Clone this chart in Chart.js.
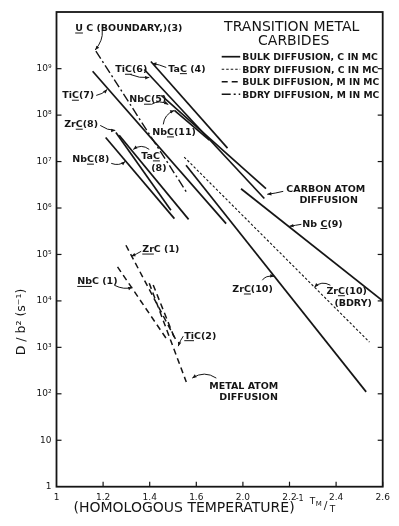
<!DOCTYPE html>
<html>
<head>
<meta charset="utf-8">
<script src="https://cdn.jsdelivr.net/npm/chart.js"></script>
<style>
html,body{margin:0;padding:0;background:#fff;overflow:hidden}
#box{position:relative;width:399px;height:526px}
</style>
</head>
<body>
<div id="box"><canvas id="chart" width="399" height="526"></canvas></div>
<script>
// ---------------- data ----------------
const xTickValues = [1.0, 1.2, 1.4, 1.6, 1.8, 2.0, 2.2, 2.4];
const xTickLabels = ['1', '1.2', '1.4', '1.6', '2.0', '2.2', '2.4', '2.6'];
const yTickValues = [1, 1e1, 1e2, 1e3, 1e4, 1e5, 1e6, 1e7, 1e8, 1e9];
const yTickLabels = ['1', '10', '10²', '10³', '10⁴', '10⁵', '10⁶', '10⁷', '10⁸', '10⁹'];

const seriesNames = ['UC boundary (3)', 'TiC (7)', 'TiC (6)', 'TaC (4)', 'NbC (5)', 'NbC (11)',
  'NbC (8)', 'ZrC (8)', 'TaC (8)', 'NbC (9)', 'ZrC (10) bdry', 'ZrC (10)',
  'ZrC (1)', 'NbC (1)', 'TiC (2)', 'TiC (2) b'];
const seriesKinds = ['bdryM', 'bulkC', 'bulkC', 'bulkC', 'bulkC', 'bulkC',
  'bulkC', 'bulkC', 'bulkC', 'bulkC', 'bdryC', 'bulkC',
  'bulkM', 'bulkM', 'bulkM', 'bulkM'];
const startX = [1.169, 1.155, 1.377, 1.405, 1.450, 1.506, 1.211, 1.255, 1.269, 1.792, 1.548, 1.556, 1.298, 1.262, 1.398, 1.415];
const startY = [2.4e9, 8.8e8, 9.6e8, 1.43e9, 2.65e8, 1.26e8, 3.3e7, 4.2e7, 3.7e7, 2.6e6, 1.25e7, 8.3e6, 1.58e5, 5.4e4, 2.4e4, 2.2e4];
const endX   = [1.558, 1.728, 1.892, 1.734, 1.899, 1.656, 1.506, 1.491, 1.567, 2.400, 2.343, 2.329, 1.513, 1.470, 1.557, 1.510];
const endY   = [2.2e6, 4.6e5, 1.6e6, 1.95e7, 2.6e6, 2.9e7, 5.9e5, 8.9e5, 5.7e5, 1.0e4, 1.3e3, 110, 1.43e3, 1.58e3, 180, 1.43e3];

const legendKinds = ['bulkC', 'bdryC', 'bulkM', 'bdryM'];
const legendTexts = ['BULK DIFFUSION, C IN MC', 'BDRY DIFFUSION, C IN MC', 'BULK DIFFUSION, M IN MC', 'BDRY DIFFUSION, M IN MC'];

// ---------------- styles / annotations ----------------
const INK = '#151515';
const kindDash = { bulkC: [], bdryC: [2.5, 2], bulkM: [6, 4], bdryM: [9, 3, 2, 3] };
const kindWidth = { bulkC: 1.7, bdryC: 1.1, bulkM: 1.5, bdryM: 1.4 };
const FONT = '"DejaVu Sans", sans-serif';

// annotation text: left x (axis units), log10(y) of text centre, underline char range
const notes = [
  { t: 'U C (BOUNDARY,)(3)', u: [0, 1], x: 1.0803, l: 9.886 },
  { t: 'TiC(6)', u: [2, 3], x: 1.2521, l: 8.998 },
  { t: 'TaC (4)', u: [2, 3], x: 1.4797, l: 9.011 },
  { t: 'TiC(7)', u: [2, 3], x: 1.0245, l: 8.439 },
  { t: 'NbC(5)', u: [2, 3], x: 1.3122, l: 8.353 },
  { t: 'NbC(11)', u: [2, 3], x: 1.411, l: 7.649 },
  { t: 'ZrC(8)', u: [2, 3], x: 1.0331, l: 7.815 },
  { t: 'NbC(8)', u: [2, 3], x: 1.0674, l: 7.062 },
  { t: 'TaC', u: [2, 3], x: 1.3638, l: 7.133 },
  { t: '(8)', x: 1.4067, l: 6.875 },
  { t: 'CARBON ATOM', x: 1.9865, l: 6.417 },
  { t: 'DIFFUSION', x: 2.0424, l: 6.181 },
  { t: 'Nb C(9)', u: [3, 4], x: 2.0552, l: 5.677 },
  { t: 'ZrC(10)', u: [2, 3], x: 1.7546, l: 4.267 },
  { t: 'ZrC(10)', u: [2, 3], x: 2.1583, l: 4.230 },
  { t: '(BDRY)', x: 2.1927, l: 3.957 },
  { t: 'ZrC (1)', u: [0, 2], x: 1.3681, l: 5.127 },
  { t: 'NbC (1)', u: [0, 2], x: 1.0889, l: 4.430 },
  { t: 'TiC(2)', u: [0, 2], x: 1.5484, l: 3.262 },
  { t: 'METAL ATOM', x: 1.6558, l: 2.172 },
  { t: 'DIFFUSION', x: 1.6988, l: 1.935 }
];
// leaders: start, control, end (axis units, log10 y)
const leaders = [
  [1.1963, 9.811, 1.2006, 9.617, 1.1662, 9.402],
  [1.3165, 8.875, 1.3552, 8.789, 1.3981, 8.811],
  [1.4711, 9.026, 1.4411, 9.090, 1.4110, 9.112],
  [1.1705, 8.424, 1.1963, 8.445, 1.2177, 8.553],
  [1.4067, 8.230, 1.4411, 8.338, 1.4797, 8.230],
  [1.4582, 7.800, 1.4625, 8.015, 1.5054, 8.101],
  [1.1877, 7.778, 1.2177, 7.671, 1.2521, 7.671],
  [1.2349, 6.961, 1.2693, 6.897, 1.2950, 7.004],
  [1.3981, 7.262, 1.3638, 7.391, 1.3294, 7.262],
  [1.9732, 6.359, 1.9389, 6.316, 1.9045, 6.295],
  [2.0509, 5.649, 2.0252, 5.628, 1.9994, 5.606],
  [1.8834, 4.445, 1.8963, 4.553, 1.9350, 4.531],
  [2.1755, 4.338, 2.1369, 4.445, 2.1068, 4.295],
  [1.3638, 5.069, 1.3423, 5.004, 1.3208, 4.961],
  [1.2478, 4.338, 1.2908, 4.230, 1.3251, 4.295],
  [1.5441, 3.241, 1.5312, 3.155, 1.5226, 3.026],
  [1.6859, 2.338, 1.6343, 2.510, 1.5828, 2.338]
];

const datasets = seriesNames.map((name, i) => ({
  label: name,
  data: [{ x: startX[i], y: startY[i] }, { x: endX[i], y: endY[i] }],
  showLine: true,
  borderColor: INK,
  borderWidth: kindWidth[seriesKinds[i]],
  borderDash: kindDash[seriesKinds[i]],
  pointRadius: 0,
  pointHoverRadius: 0,
  fill: false
}));

const deco = {
  id: 'deco',
  afterDraw(chart) {
    const { ctx, chartArea: a, scales } = chart;
    const xs = scales.x, ys = scales.y;
    const X = v => xs.getPixelForValue(v);
    const Y = l => ys.getPixelForValue(Math.pow(10, l));
    const seg = (x0, y0, x1, y1) => { ctx.beginPath(); ctx.moveTo(x0, y0); ctx.lineTo(x1, y1); ctx.stroke(); };
    ctx.save();
    ctx.strokeStyle = INK; ctx.fillStyle = INK;
    // frame
    ctx.lineWidth = 1.8;
    ctx.strokeRect(a.left, a.top, a.right - a.left, a.bottom - a.top);
    // inward ticks
    ctx.lineWidth = 1.2;
    xTickValues.forEach((v, i) => { if (i === 0) return; const p = X(v); seg(p, a.bottom, p, a.bottom - 5); });
    yTickValues.forEach((v, i) => {
      if (i === 0) return;
      const p = ys.getPixelForValue(v);
      seg(a.left, p, a.left + 5, p);
      seg(a.right, p, a.right - 5, p);
    });
    // legend
    ctx.textBaseline = 'alphabetic';
    ctx.textAlign = 'center';
    ctx.font = '14px ' + FONT;
    const cx = a.right - 91;
    ctx.fillText('TRANSITION METAL', cx, a.top + 18.5);
    ctx.fillText('CARBIDES', cx + 2, a.top + 33);
    ctx.textAlign = 'left';
    ctx.font = 'bold 9.3px ' + FONT;
    legendKinds.forEach((k, i) => {
      const yy = a.top + 44.7 + i * 12.5;
      ctx.lineWidth = kindWidth[k];
      ctx.setLineDash(kindDash[k]);
      seg(a.right - 161, yy, a.right - 142.5, yy);
      ctx.setLineDash([]);
      ctx.fillText(legendTexts[i], a.right - 140.4, yy + 3.4, 137);
    });
    // annotation texts
    ctx.font = 'bold 9.5px ' + FONT;
    ctx.lineWidth = 1;
    notes.forEach(n => {
      const px = X(n.x), base = Y(n.l) + 3.5;
      ctx.fillText(n.t, px, base);
      if (n.u) {
        const u0 = px + ctx.measureText(n.t.slice(0, n.u[0])).width;
        const u1 = px + ctx.measureText(n.t.slice(0, n.u[1])).width;
        seg(u0, base + 2, u1, base + 2);
      }
    });
    // leaders with arrow heads
    ctx.lineWidth = 1;
    leaders.forEach(L => {
      const x0 = X(L[0]), y0 = Y(L[1]), qx = X(L[2]), qy = Y(L[3]), x1 = X(L[4]), y1 = Y(L[5]);
      ctx.beginPath(); ctx.moveTo(x0, y0); ctx.quadraticCurveTo(qx, qy, x1, y1); ctx.stroke();
      const ang = Math.atan2(y1 - qy, x1 - qx);
      ctx.beginPath();
      ctx.moveTo(x1, y1);
      ctx.lineTo(x1 - 4.5 * Math.cos(ang - 0.4), y1 - 4.5 * Math.sin(ang - 0.4));
      ctx.lineTo(x1 - 4.5 * Math.cos(ang + 0.4), y1 - 4.5 * Math.sin(ang + 0.4));
      ctx.closePath(); ctx.fill();
    });
    // axis titles
    ctx.font = '14px ' + FONT;
    ctx.textAlign = 'left';
    const tx = a.left + 17;
    ctx.fillText('(HOMOLOGOUS TEMPERATURE)', tx, 511.5);
    const w = ctx.measureText('(HOMOLOGOUS TEMPERATURE)').width;
    ctx.font = '8px ' + FONT;
    ctx.fillText('-1', tx + w + 1, 501);
    ctx.font = '9px ' + FONT;
    ctx.fillText('T', tx + w + 15, 504);
    ctx.font = '7px ' + FONT;
    ctx.fillText('M', tx + w + 21, 506);
    ctx.font = '11px ' + FONT;
    ctx.fillText('/', tx + w + 29, 509);
    ctx.font = '9px ' + FONT;
    ctx.fillText('T', tx + w + 35, 511.5);
    ctx.save();
    ctx.translate(25, 322);
    ctx.rotate(-Math.PI / 2);
    ctx.textAlign = 'center';
    ctx.font = '12.5px ' + FONT;
    ctx.fillText('D / b² (s⁻¹)', 0, 0);
    ctx.restore();
    ctx.restore();
  }
};

new Chart(document.getElementById('chart'), {
  type: 'scatter',
  data: { datasets },
  options: {
    responsive: false,
    animation: false,
    devicePixelRatio: 1,
    layout: { padding: { left: 0, top: 12, right: 16.3, bottom: 0 } },
    plugins: { legend: { display: false }, tooltip: { enabled: false } },
    scales: {
      x: {
        type: 'linear', min: 1.0, max: 2.4,
        afterBuildTicks: s => { s.ticks = xTickValues.map(v => ({ value: v })); },
        afterFit: s => { s.height = 39.3; },
        grid: { display: false, drawTicks: false },
        border: { display: false },
        ticks: {
          autoSkip: false, maxRotation: 0, padding: 6, color: INK,
          font: { family: FONT, size: 9 },
          callback: (v, i) => xTickLabels[i]
        }
      },
      y: {
        type: 'logarithmic', min: 1, max: Math.pow(10, 10.22),
        afterBuildTicks: s => { s.ticks = yTickValues.map(v => ({ value: v })); },
        afterFit: s => { s.width = 56.5; },
        grid: { display: false, drawTicks: false },
        border: { display: false },
        ticks: {
          autoSkip: false, padding: 5, color: INK,
          font: { family: FONT, size: 9 },
          callback: (v) => yTickLabels[yTickValues.indexOf(v)]
        }
      }
    }
  },
  plugins: [deco]
});
</script>
</body>
</html>
